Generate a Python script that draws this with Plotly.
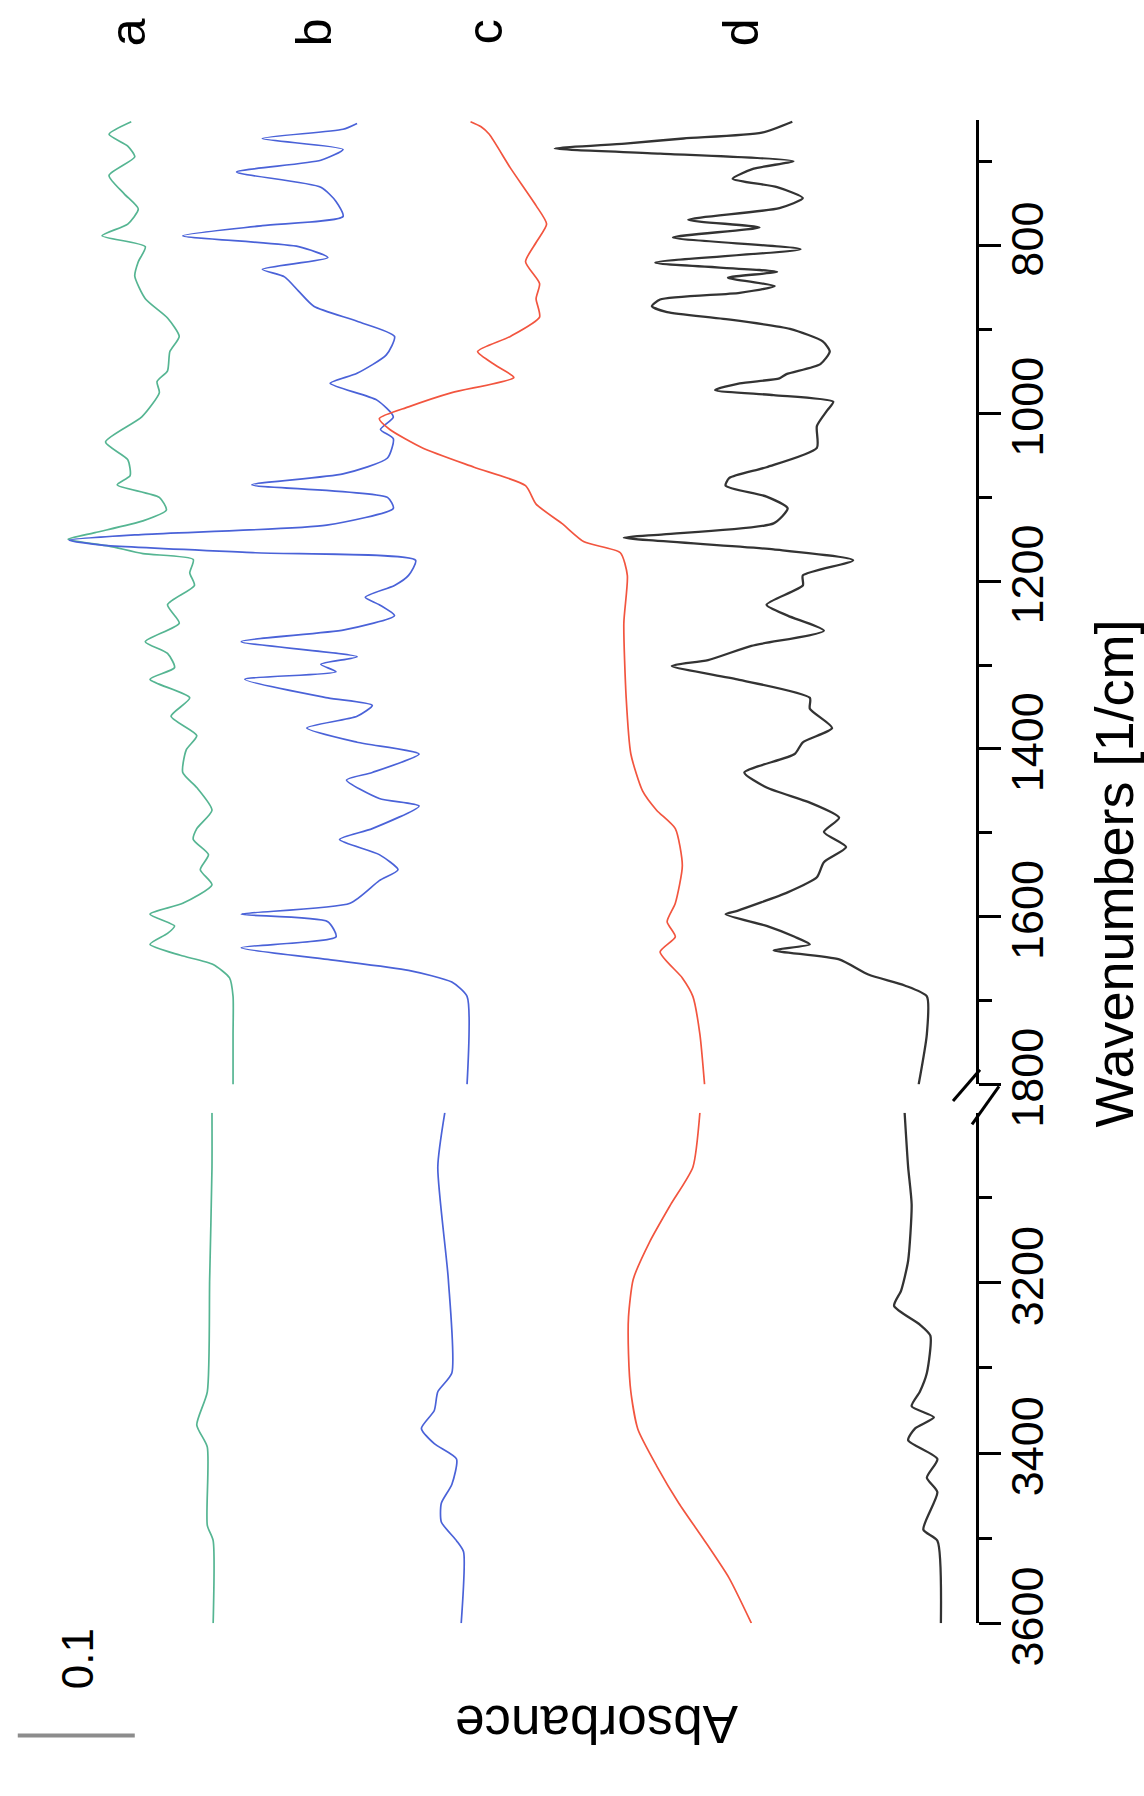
import plotly.graph_objects as go

# ---------------- data (wavenumber [1/cm], absorbance incl. vertical offset) -------------
spec_a = [(652,0.722),(667,0.741),(681,0.725),(694,0.719),(716,0.741),(738,0.728),(756,0.716),
          (774,0.725),(788,0.747),(801,0.710),(819,0.716),(836,0.719),(863,0.710),(886,0.691),
          (908,0.681),(926,0.689),(949,0.691),(962,0.700),(975,0.698),(1004,0.713),(1034,0.744),
          (1055,0.725),(1074,0.723),(1085,0.734),(1100,0.698),(1115,0.692),(1128,0.712),(1142,0.753),
          (1150,0.776),(1158,0.741),(1167,0.712),(1174,0.669),(1190,0.672),(1205,0.668),(1228,0.691),
          (1250,0.681),(1272,0.710),(1286,0.691),(1303,0.685),(1317,0.706),(1339,0.672),(1361,0.688),
          (1384,0.666),(1401,0.675),(1428,0.678),(1446,0.666),(1473,0.653),(1495,0.666),(1508,0.669),
          (1526,0.656),(1544,0.663),(1562,0.653),(1584,0.678),(1597,0.706),(1611,0.685),(1620,0.691),
          (1633,0.706),(1646,0.680),(1657,0.652),(1673,0.638),(1695,0.635),(1740,0.635),(1800,0.635),
          (3000,0.653),(3064,0.653),(3196,0.655),(3328,0.657),(3367,0.666),(3393,0.657),(3485,0.657),
          (3503,0.652),(3600,0.652)]

spec_b = [(654,0.529),(661,0.541),(672,0.610),(685,0.541),(698,0.560),(712,0.632),(730,0.560),
          (747,0.547),(765,0.541),(776,0.610),(788,0.678),(801,0.579),(814,0.554),(828,0.610),
          (837,0.591),(854,0.579),(872,0.566),(890,0.529),(908,0.497),(930,0.504),(952,0.529),
          (964,0.552),(984,0.512),(1004,0.498),(1019,0.509),(1030,0.498),(1053,0.503),(1072,0.541),
          (1085,0.619),(1100,0.503),(1113,0.498),(1133,0.555),(1144,0.710),(1151,0.775),(1157,0.747),
          (1166,0.616),(1175,0.479),(1193,0.485),(1205,0.497),(1219,0.522),(1228,0.510),(1241,0.497),
          (1258,0.540),(1272,0.628),(1290,0.529),(1299,0.560),(1308,0.547),(1317,0.625),(1339,0.554),
          (1348,0.516),(1361,0.529),(1375,0.572),(1392,0.529),(1406,0.476),(1428,0.516),(1437,0.538),
          (1459,0.510),(1468,0.476),(1495,0.516),(1508,0.544),(1526,0.510),(1544,0.494),(1557,0.510),
          (1584,0.535),(1597,0.628),(1606,0.554),(1624,0.547),(1637,0.628),(1651,0.554),(1664,0.485),
          (1678,0.448),(1695,0.435),(1800,0.435),
          (3000,0.454),(3064,0.460),(3196,0.451),(3306,0.448),(3328,0.460),(3350,0.463),(3371,0.474),
          (3389,0.463),(3407,0.444),(3437,0.448),(3459,0.457),(3481,0.457),(3503,0.444),(3516,0.438),
          (3600,0.440)]

spec_c = [(652,0.432),(658,0.423),(667,0.416),(707,0.398),(752,0.376),(774,0.367),(796,0.376),
          (819,0.385),(845,0.373),(863,0.376),(885,0.373),(908,0.398),(926,0.426),(943,0.410),
          (957,0.395),(975,0.448),(992,0.485),(1006,0.510),(1019,0.501),(1041,0.473),(1064,0.429),
          (1086,0.385),(1108,0.376),(1131,0.354),(1153,0.335),(1166,0.304),(1193,0.298),(1250,0.301),
          (1339,0.299),(1406,0.295),(1450,0.285),(1473,0.273),(1495,0.257),(1539,0.251),(1584,0.257),
          (1606,0.264),(1624,0.257),(1642,0.270),(1673,0.251),(1695,0.242),(1740,0.236),(1800,0.232),
          (3000,0.236),(3064,0.242),(3108,0.261),(3152,0.279),(3196,0.293),(3240,0.297),(3284,0.297),
          (3328,0.295),(3372,0.289),(3415,0.273),(3459,0.254),(3503,0.232),(3547,0.211),(3600,0.192)]

spec_d = [(652,0.157),(665,0.183),(672,0.250),(678,0.300),(684,0.360),(690,0.270),(699,0.156),
          (708,0.190),(720,0.208),(730,0.170),(743,0.148),(755,0.168),(769,0.246),(778,0.185),
          (790,0.259),(804,0.150),(820,0.274),(831,0.170),(838,0.212),(848,0.172),(856,0.202),
          (864,0.270),(872,0.277),(879,0.264),(887,0.216),(899,0.159),(914,0.131),(926,0.125),
          (941,0.133),(953,0.162),(958,0.168),(964,0.202),(972,0.223),(978,0.173),(986,0.122),
          (996,0.127),(1015,0.136),(1041,0.136),(1064,0.179),(1077,0.211),(1086,0.214),(1099,0.179),
          (1113,0.161),(1131,0.173),(1144,0.267),(1148,0.301),(1162,0.173),(1175,0.105),(1193,0.148),
          (1205,0.148),(1228,0.179),(1241,0.161),(1259,0.130),(1277,0.192),(1294,0.229),(1301,0.260),
          (1317,0.204),(1339,0.142),(1352,0.142),(1375,0.123),(1392,0.148),(1406,0.155),(1428,0.198),
          (1446,0.179),(1464,0.142),(1482,0.117),(1499,0.130),(1517,0.111),(1535,0.130),(1553,0.136),
          (1571,0.161),(1593,0.204),(1597,0.214),(1611,0.179),(1624,0.155),(1633,0.142),(1640,0.173),
          (1651,0.117),(1669,0.092),(1682,0.061),(1695,0.042),(1740,0.042),(1800,0.049),
          (3000,0.061),(3064,0.058),(3108,0.055),(3174,0.058),(3209,0.064),(3227,0.070),(3249,0.048),
          (3262,0.039),(3306,0.042),(3328,0.048),(3345,0.055),(3358,0.036),(3371,0.052),(3385,0.058),
          (3407,0.033),(3429,0.042),(3446,0.033),(3490,0.045),(3503,0.033),(3600,0.030)]

series_names = ["a", "b", "c", "d"]
series_colors = ["#55b592", "#4a62d8", "#f2553f", "#333333"]
series_widths = [1.7, 1.7, 1.7, 2.3]
spectra = [spec_a, spec_b, spec_c, spec_d]

low_range = [650, 1800]
high_range = [3000, 3600]
low_major = [800, 1000, 1200, 1400, 1600, 1800]
low_minor = [700, 900, 1100, 1300, 1500, 1700]
high_major = [3200, 3400, 3600]
high_minor = [3100, 3300, 3500]
scale_bar_value = 0.1
scale_bar_start = 0.819

# ---------------- layout geometry (pixels) ----------------
W, H = 1144, 1796
AX_X = 976                  # pixel x of the wavenumber axis line
TOP_Y0, TOP_Y1 = 123, 1111  # pixel y of 650 and 1800
BOT_Y0, BOT_Y1 = 1140, 1663 # pixel y of 3000 and 3600
PX_PER_ABS = 1170

def px(x):
    return x / W

def py(y):
    return 1 - y / H

FONT = "Liberation Sans, Arial, sans-serif"

fig = go.Figure()
for name, spec, col, lw in zip(series_names, spectra, series_colors, series_widths):
    lo = [p for p in spec if p[0] <= low_range[1]]
    hi = [p for p in spec if p[0] >= high_range[0]]
    fig.add_trace(go.Scatter(x=[p[1] for p in lo], y=[p[0] for p in lo], mode="lines",
                             line=dict(color=col, width=lw, shape="spline", smoothing=0.6),
                             xaxis="x", yaxis="y", showlegend=False, name=name))
    fig.add_trace(go.Scatter(x=[p[1] for p in hi], y=[p[0] for p in hi], mode="lines",
                             line=dict(color=col, width=lw, shape="spline", smoothing=0.6),
                             xaxis="x2", yaxis="y2", showlegend=False, name=name))

x_max = AX_X / PX_PER_ABS
yax_common = dict(side="right", showline=True, linewidth=3, linecolor="black",
                  ticks="outside", ticklen=22, tickwidth=3, tickcolor="black",
                  tickangle=-90, showgrid=False, zeroline=False, ticklabelstandoff=-12,
                  tickfont=dict(family=FONT, size=45, color="black"))

fig.update_layout(
    width=W, height=H, margin=dict(l=0, r=0, t=0, b=0),
    plot_bgcolor="white", paper_bgcolor="white",
    xaxis=dict(domain=[0, px(AX_X)], range=[x_max, 0], visible=False, anchor="y"),
    xaxis2=dict(domain=[0, px(AX_X)], range=[x_max, 0], visible=False, anchor="y2", matches="x"),
    yaxis=dict(domain=[py(TOP_Y1), py(TOP_Y0)], range=[low_range[1], low_range[0]], anchor="x",
               tickvals=low_major, ticktext=[str(v) for v in low_major],
               minor=dict(tickvals=low_minor, ticklen=13, tickwidth=3, ticks="outside", tickcolor="black"),
               **yax_common),
    yaxis2=dict(domain=[py(BOT_Y1), py(BOT_Y0)], range=[high_range[1], high_range[0]], anchor="x2",
                tickvals=high_major, ticktext=[str(v) for v in high_major],
                minor=dict(tickvals=high_minor, ticklen=13, tickwidth=3, ticks="outside", tickcolor="black"),
                **yax_common),
)

def note(x, y, text, angle, size):
    fig.add_annotation(x=px(x), y=py(y), xref="paper", yref="paper", text=text,
                       xanchor="center", yanchor="middle", showarrow=False, textangle=angle,
                       font=dict(family=FONT, size=size, color="black"))

# series labels
label_x = [128, 314, 485, 741]
for name, lx in zip(series_names, label_x):
    note(lx, 33, name, -90, 50)

# axis titles and scale-bar label
note(1114, 895, "Wavenumbers [1/cm]", -90, 54)
note(597, 1767, "Absorbance", 180, 53)
note(77, 1700, str(scale_bar_value), -90, 44)

# scale bar (0.1 absorbance)
fig.add_shape(type="line", xref="x", yref="paper",
              x0=scale_bar_start, x1=scale_bar_start - scale_bar_value,
              y0=py(1778), y1=py(1778), line=dict(color="#8c8c8c", width=4))

# axis break marks
for (x0, y0, x1, y1) in [(953, 1128, 980, 1096), (972, 1152, 999, 1113)]:
    fig.add_shape(type="line", xref="paper", yref="paper",
                  x0=px(x0), y0=py(y0), x1=px(x1), y1=py(y1),
                  line=dict(color="black", width=3))

fig.write_html("out.html")
